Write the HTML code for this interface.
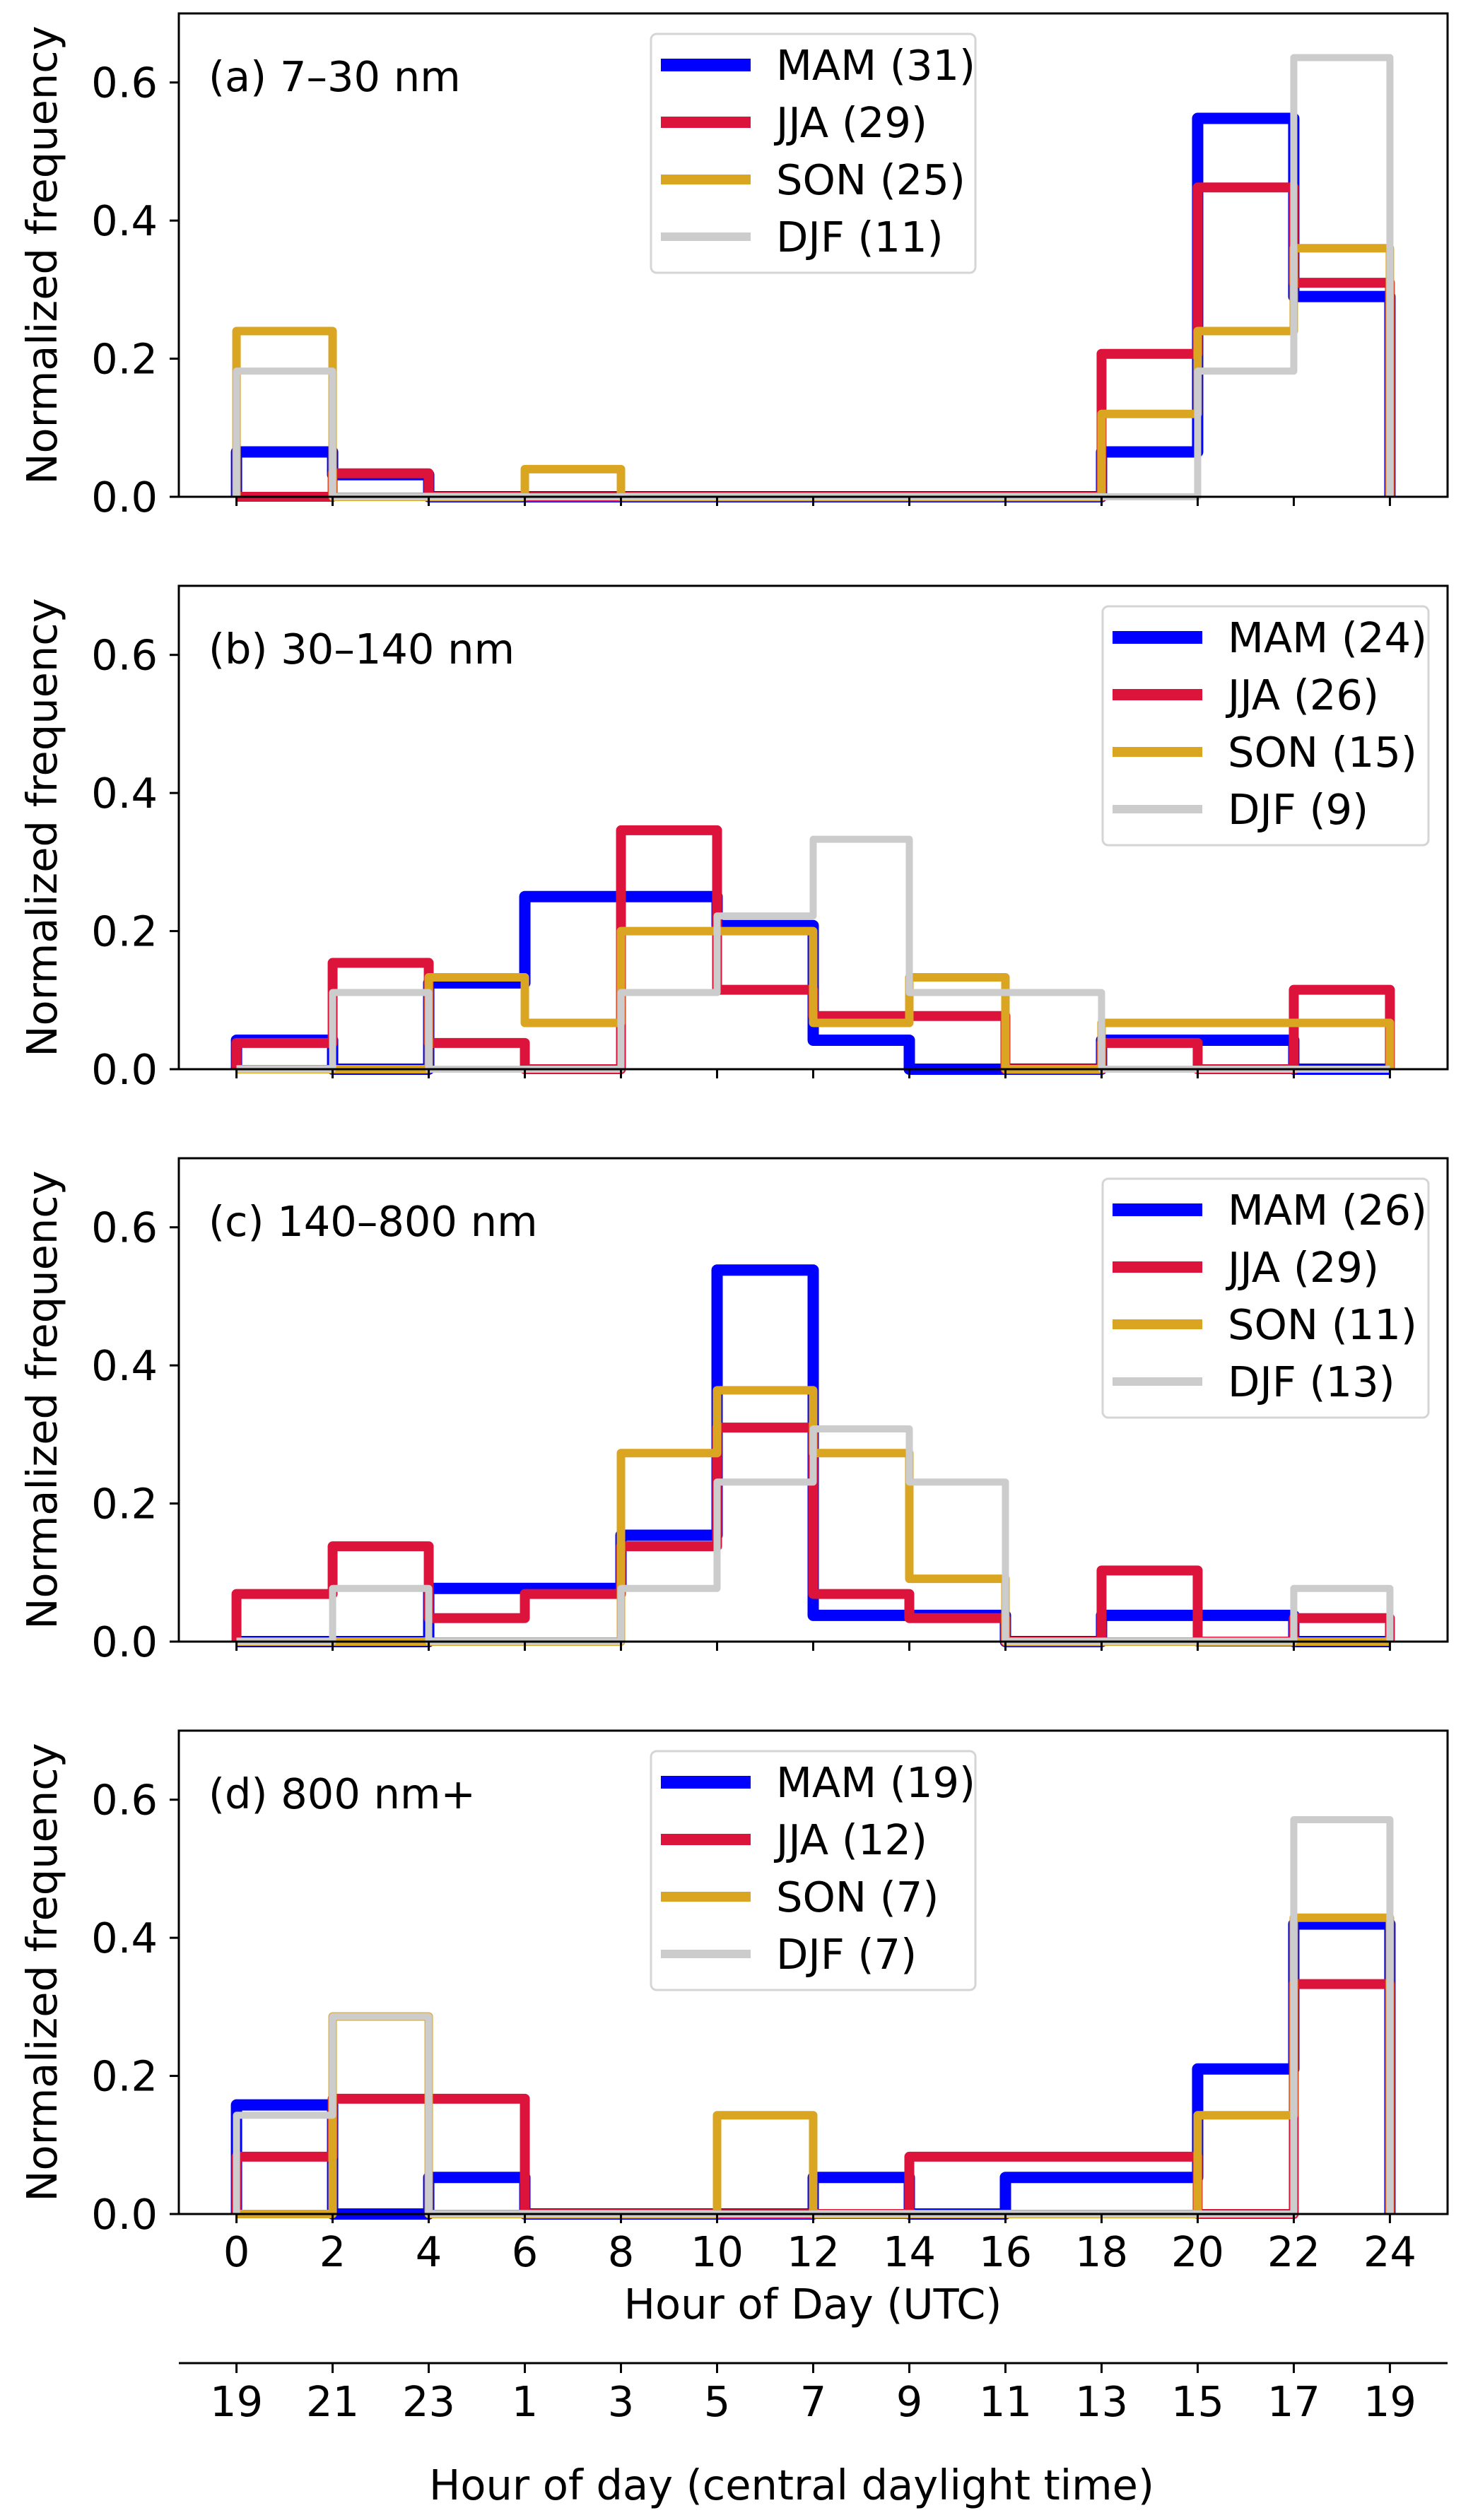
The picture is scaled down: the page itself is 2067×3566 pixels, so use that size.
<!DOCTYPE html>
<html><head><meta charset="utf-8"><style>
html,body{margin:0;padding:0;background:#fff;}
svg{display:block;font-family:"DejaVu Sans","Liberation Sans",sans-serif;}
</style></head><body>
<svg id="fig" width="2067" height="3566" viewBox="0 0 2067 3566" xmlns="http://www.w3.org/2000/svg"></svg>
<script>
const hourTicks = [0,2,4,6,8,10,12,14,16,18,20,22,24];
const cdtLabels = ["19","21","23","1","3","5","7","9","11","13","15","17","19"];
const yTicks = [0.0,0.2,0.4,0.6];
const binEdges = [0,2,4,6,8,10,12,14,16,18,20,22,24];
const seasons = ["MAM","JJA","SON","DJF"];
const panelTitles = ["(a) 7\u201330 nm","(b) 30\u2013140 nm","(c) 140\u2013800 nm","(d) 800 nm+"];
const countsA = [31,29,25,11];
const countsB = [24,26,15,9];
const countsC = [26,29,11,13];
const countsD = [19,12,7,7];
const aMAM = [0.065,0.032,0,0,0,0,0,0,0,0.065,0.548,0.29];
const aJJA = [0,0.034,0,0,0,0,0,0,0,0.207,0.448,0.31];
const aSON = [0.24,0,0,0.04,0,0,0,0,0,0.12,0.24,0.36];
const aDJF = [0.182,0,0,0,0,0,0,0,0,0,0.182,0.636];
const bMAM = [0.042,0,0.125,0.25,0.25,0.208,0.042,0,0,0.042,0.042,0];
const bJJA = [0.038,0.154,0.038,0,0.346,0.115,0.077,0.077,0,0.038,0,0.115];
const bSON = [0,0,0.133,0.067,0.2,0.2,0.067,0.133,0,0.067,0.067,0.067];
const bDJF = [0,0.111,0,0,0.111,0.222,0.333,0.111,0.111,0,0,0];
const cMAM = [0,0,0.077,0.077,0.154,0.538,0.038,0.038,0,0.038,0.038,0];
const cJJA = [0.069,0.138,0.034,0.069,0.138,0.31,0.069,0.034,0,0.103,0,0.034];
const cSON = [0,0,0,0,0.273,0.364,0.273,0.091,0,0,0,0];
const cDJF = [0,0.077,0,0,0.077,0.231,0.308,0.231,0,0,0,0.077];
const dMAM = [0.158,0,0.053,0,0,0,0.053,0,0.053,0.053,0.21,0.42];
const dJJA = [0.083,0.167,0.167,0,0,0,0,0.083,0.083,0.083,0,0.333];
const dSON = [0,0.286,0,0,0,0.143,0,0,0,0,0.143,0.429];
const dDJF = [0.143,0.286,0,0,0,0,0,0,0,0,0,0.571];

const panels = [
  {vals:[aMAM,aJJA,aSON,aDJF], counts:countsA, legend:"center"},
  {vals:[bMAM,bJJA,bSON,bDJF], counts:countsB, legend:"right"},
  {vals:[cMAM,cJJA,cSON,cDJF], counts:countsC, legend:"right"},
  {vals:[dMAM,dJJA,dSON,dDJF], counts:countsD, legend:"center"}
];
const colors = ["#0000ff","#dc143c","#daa520","#cccccc"];
const widths = [16,14,12,10];
const legW = [18,16,14,12];

const NS="http://www.w3.org/2000/svg";
const svg=document.getElementById('fig');
function mk(tag,attrs,parent){const e=document.createElementNS(NS,tag);for(const k in attrs)e.setAttribute(k,attrs[k]);(parent||svg).appendChild(e);return e;}
const L=253,R=2048,H=684,FS=59;
const tops=[19,829,1639,2449];
function xs(h){return L+(h+1.2)/26.4*(R-L);}

panels.forEach((p,pi)=>{
  const top=tops[pi],bot=top+H;
  function ys(v){return bot-v/0.7*H;}
  const g=mk('g',{});
  
  
  p.vals.forEach((vals,si)=>{
    let d='M'+xs(binEdges[0])+' '+ys(0);
    vals.forEach((v,i)=>{d+=' L'+xs(binEdges[i])+' '+ys(v)+' L'+xs(binEdges[i+1])+' '+ys(v);});
    d+=' L'+xs(binEdges[binEdges.length-1])+' '+ys(0);
    const path=mk('path',{d:d,fill:'none',stroke:colors[si],'stroke-width':widths[si],'stroke-linejoin':'round'},g);
    
    
  });
  const fr=mk('rect',{x:L,y:top,width:R-L,height:H,fill:'none',stroke:'#000','stroke-width':3},g);
  
  
  yTicks.forEach(t=>{
    mk('line',{x1:L-13,x2:L,y1:ys(t),y2:ys(t),stroke:'#000','stroke-width':3},g);
    const tx=mk('text',{x:L-30,y:ys(t)+21,'font-size':FS,'text-anchor':'end'},g);
    tx.textContent=t.toFixed(1);
    
    
  });
  hourTicks.forEach(h=>{
    mk('line',{x1:xs(h),x2:xs(h),y1:bot,y2:bot+13,stroke:'#000','stroke-width':3},g);
    if(pi===3){
      const tx=mk('text',{x:xs(h),y:bot+74,'font-size':FS,'text-anchor':'middle'},g);
      tx.textContent=h;
      
      
    }
  });
  const yl=mk('text',{x:0,y:0,'font-size':FS,'text-anchor':'middle',transform:'translate(80,'+(top+H/2)+') rotate(-90)'},g);
  yl.textContent='Normalized frequency';
  
  
  const pt=mk('text',{x:295,y:top+110,'font-size':FS},g);
  pt.textContent=panelTitles[pi];
  
  
  const lx=p.legend==='center'?921:1560, lw=p.legend==='center'?459:461;
  const ly=top+29;
  const lg=mk('g',{},g);
  
  
  mk('rect',{x:lx,y:ly,width:lw,height:338,rx:8,fill:'#fff','fill-opacity':0.8,stroke:'#d5d5d5','stroke-width':3},lg);
  seasons.forEach((s,si)=>{
    const ry=ly+44+si*81;
    mk('line',{x1:lx+14,x2:lx+141,y1:ry,y2:ry,stroke:colors[si],'stroke-width':legW[si]},lg);
    const t=mk('text',{x:lx+177,y:ry+21,'font-size':FS},lg);
    t.textContent=s+' ('+p.counts[si]+')';
    
    
  });
});
const xt=mk('text',{x:1150,y:3281,'font-size':FS,'text-anchor':'middle'});
xt.textContent='Hour of Day (UTC)';


const sa=mk('line',{x1:L,x2:R,y1:3344,y2:3344,stroke:'#000','stroke-width':3});


hourTicks.forEach((h,i)=>{
  mk('line',{x1:xs(h),x2:xs(h),y1:3344,y2:3358,stroke:'#000','stroke-width':3});
  const t=mk('text',{x:xs(h),y:3419,'font-size':FS,'text-anchor':'middle'});
  t.textContent=cdtLabels[i];
  
  
});
const st=mk('text',{x:1120,y:3537,'font-size':FS,'text-anchor':'middle'});
st.textContent='Hour of day (central daylight time)';


</script>
</body></html>
